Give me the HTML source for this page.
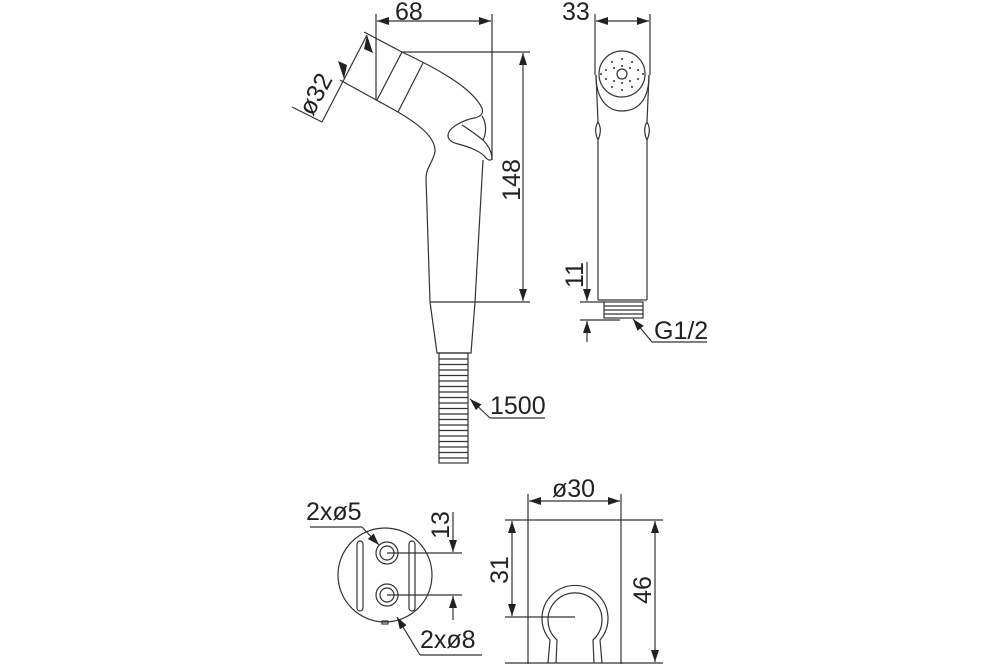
<!DOCTYPE html>
<html><head><style>
html,body{margin:0;padding:0;background:#fff;}
svg{display:block}
text{font-family:"Liberation Sans",Arial,sans-serif;fill:#222;font-size:25px}
</style></head><body>
<svg width="1000" height="666" viewBox="0 0 1000 666" xmlns="http://www.w3.org/2000/svg">
<defs>
<marker id="a" viewBox="0 0 12 8" refX="12" refY="4" markerWidth="13" markerHeight="8" orient="auto-start-reverse" markerUnits="userSpaceOnUse"><path d="M0,0 L12,4 L0,8 z" fill="#222"/></marker>
</defs>
<g stroke="#333" stroke-width="1.2" fill="none">
<!-- 68 dim -->
<line x1="376" y1="14" x2="376" y2="100"/>
<line x1="492" y1="14" x2="492" y2="160"/>
<line x1="377" y1="21" x2="491" y2="21" marker-start="url(#a)" marker-end="url(#a)"/>
<!-- head -->
<path d="M364,32 L402,52 C440,70 472,88 482,108"/>
<path d="M340,80 L398,112 C420,125 436,138 435,152 C433,162 426,168 426,178 L430,302"/>
<line x1="402" y1="52" x2="377" y2="100"/>
<line x1="423" y1="63" x2="398" y2="112"/>
<!-- trigger -->
<path d="M482,108 C484,114 480,117 474,118"/>
<path d="M474,118 C464,120 452,126 449,132 C446,138 450,142 458,144 C470,147 482,152 486,158 C489,161 492,161 492,157 C491,150 487,144 483,140 C487,132 486,122 482,116"/>
<path d="M462,125 C470,130 478,136 483,140"/>
<path d="M483,160 L475,302"/>
<!-- 148 dim -->
<line x1="402" y1="52" x2="530" y2="52"/>
<line x1="430" y1="302" x2="530" y2="302"/>
<line x1="523" y1="53" x2="523" y2="301" marker-start="url(#a)" marker-end="url(#a)"/>
<!-- ø32 -->
<line x1="367" y1="35" x2="322" y2="122"/>
<line x1="322" y1="122" x2="292" y2="107"/>
<path d="M367,35 l-3,14 l9,4 z" fill="#222" stroke="none"/>
<path d="M344,79 l3,-14 l-9,-4 z" fill="#222" stroke="none"/>
<!-- nozzle -->
<path d="M430,302 L437,353 L471,353 L475,302"/>
<rect x="439" y="353" width="29" height="110"/>
<path d="M439,359h29M439,364.5h29M439,370h29M439,375.5h29M439,381h29M439,386.5h29M439,392h29M439,397.5h29M439,403h29M439,408.5h29M439,414h29M439,419.5h29M439,425h29M439,430.5h29M439,436h29M439,441.5h29M439,447h29M439,452.5h29M439,458h29"/>
<line x1="490" y1="418" x2="470" y2="399" marker-end="url(#a)"/>
<line x1="490" y1="418" x2="545" y2="418"/>
<!-- right view -->
<line x1="595" y1="14" x2="595" y2="75"/>
<line x1="650" y1="14" x2="650" y2="75"/>
<line x1="596" y1="21" x2="649" y2="21" marker-start="url(#a)" marker-end="url(#a)"/>
<circle cx="622" cy="74" r="23"/>
<circle cx="622" cy="74" r="5"/>
<path d="M596,75 C596,100 608,111 622,111 C638,111 649,100 649,75"/>
<path d="M596,75 L598,122 C594,128 596,136 598,140 L598,300"/>
<path d="M649,75 L647,122 C651,128 649,136 647,140 L647,300"/>
<path d="M598,122 C602,128 600,136 598,140 M647,122 C643,128 645,136 647,140"/>
<line x1="598" y1="300" x2="647" y2="300"/>
<rect x="604" y="302" width="39" height="16"/>
<path d="M604,306h39M604,310h39M604,314h39"/>
<line x1="580" y1="302" x2="604" y2="302"/>
<line x1="580" y1="320" x2="620" y2="320"/>
<line x1="587" y1="262" x2="587" y2="301" marker-end="url(#a)"/>
<line x1="587" y1="342" x2="587" y2="321" marker-end="url(#a)"/>
<line x1="652" y1="342" x2="633" y2="319" marker-end="url(#a)"/>
<line x1="652" y1="342" x2="707" y2="342"/>
<!-- bottom left -->
<circle cx="385" cy="575" r="47"/>
<rect x="357" y="541" width="6" height="70" rx="3"/>
<rect x="409" y="541" width="6" height="70" rx="3"/>
<circle cx="387" cy="553" r="11"/><circle cx="387" cy="553" r="7"/>
<circle cx="387" cy="595" r="11"/><circle cx="387" cy="595" r="7"/>
<line x1="387" y1="553" x2="462" y2="553"/>
<line x1="387" y1="595" x2="462" y2="595"/>
<line x1="453" y1="512" x2="453" y2="552" marker-end="url(#a)"/>
<line x1="453" y1="620" x2="453" y2="596" marker-end="url(#a)"/>
<line x1="310" y1="527" x2="362" y2="527"/>
<line x1="362" y1="527" x2="379" y2="545" marker-end="url(#a)"/>
<line x1="420" y1="655" x2="397" y2="617" marker-end="url(#a)"/>
<line x1="420" y1="655" x2="482" y2="655"/>
<rect x="382" y="621" width="6" height="3"/>
<!-- bottom right -->
<line x1="528" y1="494" x2="528" y2="664"/>
<line x1="621" y1="494" x2="621" y2="664"/>
<line x1="529" y1="501" x2="620" y2="501" marker-start="url(#a)" marker-end="url(#a)"/>
<line x1="505" y1="520" x2="663" y2="520"/>
<line x1="505" y1="663" x2="663" y2="663"/>
<line x1="512" y1="521" x2="512" y2="616" marker-start="url(#a)" marker-end="url(#a)"/>
<line x1="505" y1="617" x2="575" y2="617"/>
<line x1="655" y1="521" x2="655" y2="662" marker-start="url(#a)" marker-end="url(#a)"/>
<path d="M548,663 L550,640 A33,33 0 1 1 600,640 L602,663"/>
<path d="M556,663 L557,640 A27,27 0 1 1 593,640 L594,663"/>
</g>
<g fill="#555">
<circle cx="612" cy="62" r="1.1"/><circle cx="622" cy="59" r="1.1"/><circle cx="632" cy="62" r="1.1"/>
<circle cx="606" cy="70" r="1.1"/><circle cx="638" cy="70" r="1.1"/><circle cx="606" cy="79" r="1.1"/><circle cx="638" cy="79" r="1.1"/>
<circle cx="612" cy="87" r="1.1"/><circle cx="622" cy="90" r="1.1"/><circle cx="632" cy="87" r="1.1"/>
<circle cx="614" cy="68" r="1.1"/><circle cx="630" cy="68" r="1.1"/><circle cx="614" cy="81" r="1.1"/><circle cx="630" cy="81" r="1.1"/>
<circle cx="601" cy="74" r="1.1"/><circle cx="643" cy="74" r="1.1"/><circle cx="622" cy="66" r="1.1"/><circle cx="622" cy="83" r="1.1"/>
</g>
<text x="395" y="20">68</text>
<text x="562" y="20">33</text>
<text x="490" y="414">1500</text>
<text x="654" y="339">G1/2</text>
<text x="306" y="520">2xø5</text>
<text x="420" y="648">2xø8</text>
<text x="552" y="497">ø30</text>
<text transform="translate(520,180) rotate(-90)" text-anchor="middle">148</text>
<text transform="translate(583,275) rotate(-90)" text-anchor="middle">11</text>
<text transform="translate(449,525) rotate(-90)" text-anchor="middle">13</text>
<text transform="translate(508,570) rotate(-90)" text-anchor="middle">31</text>
<text transform="translate(651,590) rotate(-90)" text-anchor="middle">46</text>
<text transform="translate(323,98) rotate(-62)" text-anchor="middle">ø32</text>
</svg>
</body></html>
